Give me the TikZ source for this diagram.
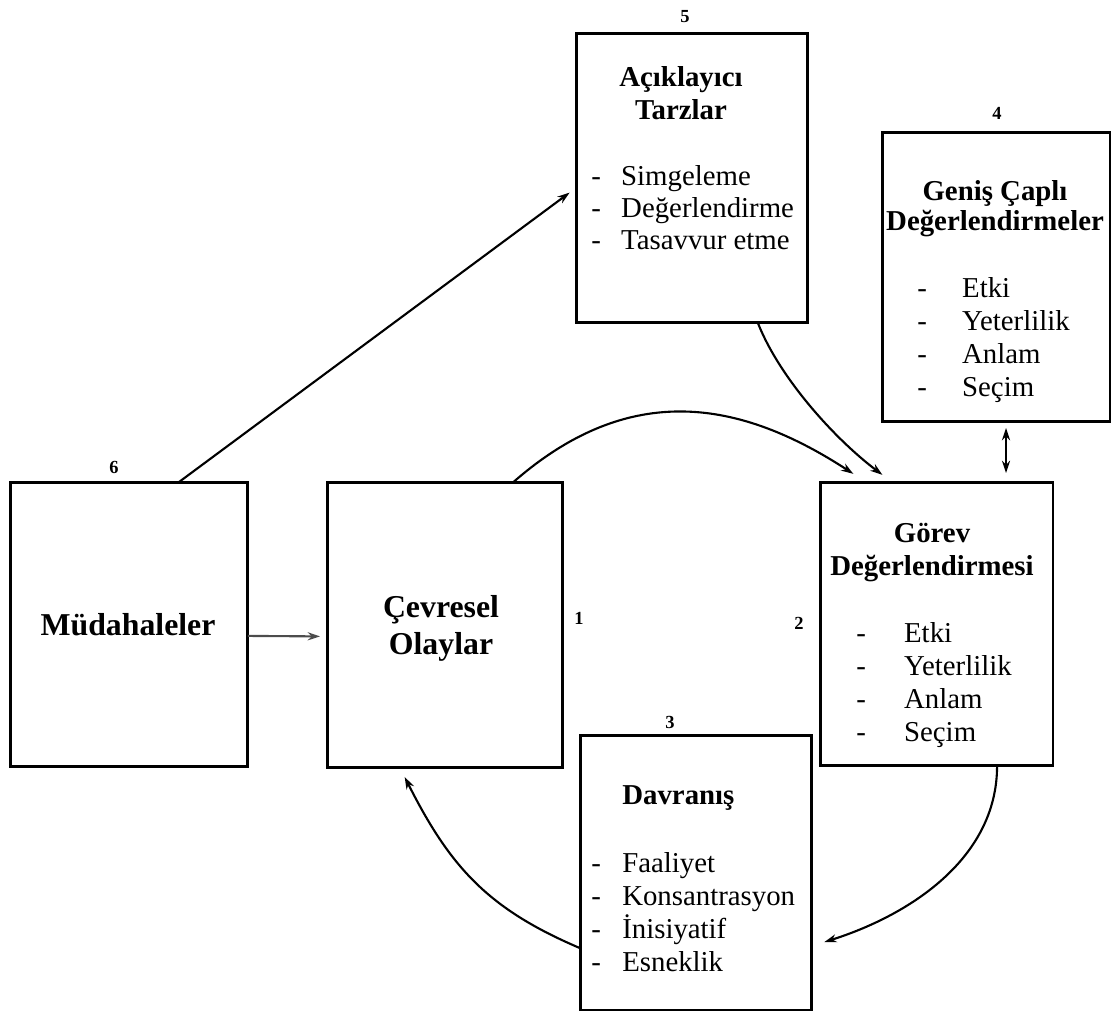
\documentclass[tikz,border=0pt]{standalone}
\usepackage{fontspec}
\setmainfont{Liberation Serif}
\usetikzlibrary{arrows.meta,calc}
\begin{document}
\begin{tikzpicture}[x=0.02cm,y=-0.02cm,
  box/.style={draw, line width=1.7pt, inner sep=0pt, outer sep=0pt},
  ttl/.style={font=\bfseries\fontsize{16.4}{19}\selectfont, inner sep=0pt, anchor=base},
  big/.style={font=\bfseries\fontsize{18.1}{21}\selectfont, inner sep=0pt, anchor=base},
  itm/.style={font=\fontsize{16.4}{19}\selectfont, inner sep=0pt, anchor=base west},
  num/.style={font=\bfseries\fontsize{10.5}{12}\selectfont, inner sep=0pt},
  tip/.style={Stealth[length=7pt,width=4.6pt]},
  link/.style={line width=1.2pt, -{Stealth[length=7pt,width=4.6pt]}},
]
\useasboundingbox (0,0) rectangle (1114,1015);

% boxes
\node[box, minimum width=4.64cm, minimum height=5.8cm]  (acik)  at (692,178)   {};
\node[box, minimum width=4.56cm, minimum height=5.8cm]  (genis) at (996,277)   {};
\node[box, minimum width=4.66cm, minimum height=5.68cm] (gorev) at (936.5,624) {};
\node[box, minimum width=4.64cm, minimum height=5.5cm]  (davr)  at (696,872.5) {};
\node[box, minimum width=4.76cm, minimum height=5.7cm]  (mud)   at (129,624.5) {};
\node[box, minimum width=4.72cm, minimum height=5.72cm] (cev)   at (445,625)   {};

% numbers
\node[num] (n5) at (685,17)  {5};
\node[num] (n4) at (997,113) {4};
\node[num] (n6) at (114,467) {6};
\node[num] (n1) at (579,618) {1};
\node[num] (n2) at (799,623) {2};
\node[num] (n3) at (670,722) {3};

% 5: explanatory styles
\node[ttl] (acik-t1) at (681,86)  {Açıklayıcı};
\node[ttl] (acik-t2) at (681,119) {Tarzlar};
\foreach \t [count=\i] in {Simgeleme, Değerlendirme, Tasavvur etme}
  \node[itm] (acik-\i) at (591,{185+(\i-1)*32}) {\makebox[17pt][l]{-}\t};

% 4: global appraisals
\node[ttl] (genis-t1) at (995,200) {Geniş Çaplı};
\node[ttl] (genis-t2) at (995,230) {Değerlendirmeler};
\foreach \t [count=\i] in {Etki, Yeterlilik, Anlam, Seçim}
  \node[itm] (genis-\i) at (917,{297+(\i-1)*33.3}) {\makebox[25.5pt][l]{-}\t};

% 2: task appraisal
\node[ttl] (gorev-t1) at (932,542) {Görev};
\node[ttl] (gorev-t2) at (932,575) {Değerlendirmesi};
\foreach \t [count=\i] in {Etki, Yeterlilik, Anlam, Seçim}
  \node[itm] (gorev-\i) at (856,{642+(\i-1)*33.3}) {\makebox[27.2pt][l]{-}\t};

% 3: behaviour
\node[ttl, anchor=base west] (davr-t) at (622,804) {Davranış};
\foreach \t [count=\i] in {Faaliyet, Konsantrasyon, İnisiyatif, Esneklik}
  \node[itm] (davr-\i) at (591,{872+(\i-1)*33.3}) {\makebox[17.6pt][l]{-}\t};

% 6 and 1
\node[big] (mud-t) at (128,635) {Müdahaleler};
\node[big] (cev-t1) at (441,617) {Çevresel};
\node[big] (cev-t2) at (441,654) {Olaylar};

% connectors
\draw[link, black!70, shorten >=0.14cm]
  ($(mud.north east)!0.54!(mud.south east)$) -- ($(cev.north west)!0.54!(cev.south west)$);
\draw[link, shorten >=0.16cm]
  ($(mud.north west)!0.71!(mud.north east)$) -- ($(acik.north west)!0.534!(acik.south west)$);
\draw[link, shorten >=0.3cm]
  ($(cev.north west)!0.79!(cev.north east)$) .. controls (630,380) and (740,400) ..
  ($(gorev.north west)!0.197!(gorev.north east)$);
\draw[link, shorten >=0.24cm]
  ($(acik.south west)!0.784!(acik.south east)$) .. controls (780,379) and (836,440) ..
  ($(gorev.north west)!0.309!(gorev.north east)$);
\coordinate (g4) at ($(genis.south west)!0.544!(genis.south east)$);
\draw[line width=1.2pt, {Stealth[length=7pt,width=4.6pt]}-{Stealth[length=7pt,width=4.6pt]},
      shorten <=0.12cm, shorten >=0.18cm]
  (g4) -- (g4 |- gorev.north);
\draw[link, shorten >=0.26cm]
  ($(gorev.south west)!0.76!(gorev.south east)$) .. controls (997,860) and (907,916) ..
  ($(davr.north east)!0.767!(davr.south east)$);
\draw[link, shorten >=0.2cm]
  ($(davr.north west)!0.775!(davr.south west)$) .. controls (488,909) and (450,867) ..
  ($(cev.south west)!0.31!(cev.south east)$);
\end{tikzpicture}
\end{document}
